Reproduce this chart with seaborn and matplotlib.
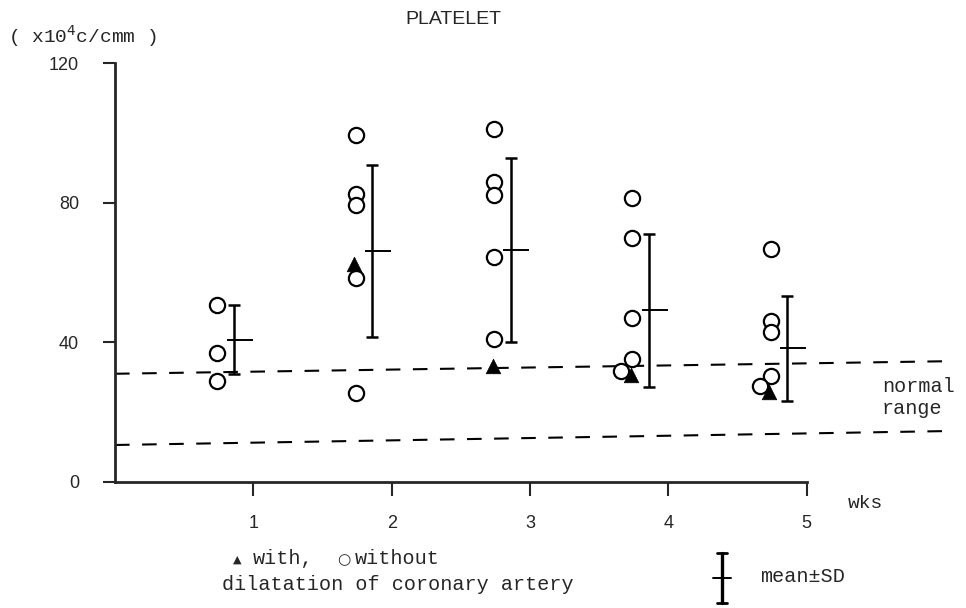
import matplotlib
matplotlib.use("Agg")
import matplotlib.pyplot as plt
from matplotlib.lines import Line2D
import seaborn as sns
import pandas as pd

# ---- data ----
weeks = [1, 2, 3, 4, 5]
without_w1 = [50.6, 37.0, 29.0]
without_w2 = [99.4, 82.6, 79.4, 58.3, 25.4]
without_w3 = [101.1, 86.0, 82.3, 64.3, 40.9]
without_w4 = [81.4, 70.0, 47.1, 35.1, 31.7]
without_w5 = [66.6, 46.0, 42.9, 30.3, 27.4]
with_weeks = [2, 3, 4, 5]
with_vals = [62.3, 33.1, 30.6, 25.7]
means = [40.7, 66.1, 66.5, 49.2, 38.3]
sds = [9.9, 24.7, 26.4, 21.9, 15.1]
normal_x = [0, 6.03]
normal_upper = [31.0, 34.6]
normal_lower = [10.6, 14.6]
yticks = [0, 40, 80, 120]
xticks = [1, 2, 3, 4, 5]

without_all = [without_w1, without_w2, without_w3, without_w4, without_w5]

sns.set_style("ticks")
plt.rcParams["font.family"] = ["Liberation Mono", "DejaVu Sans"]

fig = plt.figure(figsize=(9.66, 6.08), dpi=100)
ax = fig.add_axes([115 / 966, 126 / 608, 837 / 966, 419 / 608])

# build point table (x offsets are layout only)
rows = []
for wk, vals in zip(weeks, without_all):
    for i, v in enumerate(vals):
        # the last circle in weeks 4/5 sits a little to the left (overlap)
        shift = -0.08 if (wk >= 4 and i == len(vals) - 1) else 0.0
        rows.append({"x": wk - 0.26 + shift, "value": v})
df_without = pd.DataFrame(rows)
df_with = pd.DataFrame({"x": [w - 0.27 for w in with_weeks], "value": with_vals})

# normal range dashed lines
for ys in (normal_upper, normal_lower):
    sns.lineplot(x=normal_x, y=ys, ax=ax, color="black", lw=1.5,
                 linestyle=(0, (7, 6)), zorder=1)

sns.scatterplot(data=df_without, x="x", y="value", ax=ax, marker="o", s=120,
                facecolor="white", edgecolor="black", linewidth=1.6, zorder=3)
sns.scatterplot(data=df_with, x="x", y="value", ax=ax, marker="^", s=110,
                color="black", edgecolor="black", linewidth=0.5, zorder=4)

# mean +/- SD bars
bar_x = [w - 0.14 for w in weeks]
ax.errorbar(bar_x, means, yerr=sds, fmt="none", ecolor="black", elinewidth=1.8,
            capsize=4, capthick=1.8, zorder=2)
ax.scatter([b + 0.04 for b in bar_x], means, marker="_", s=330, color="black",
           linewidths=1.4, zorder=2)

ax.set_xlim(0, 6.05)
ax.set_ylim(0, 120)
ax.set_xticks(xticks)
ax.set_yticks(yticks)
ax.set_xticklabels([str(t) for t in xticks], family="Liberation Sans", fontsize=13)
ax.set_yticklabels([str(t) for t in yticks], family="Liberation Sans", fontsize=13)
ax.tick_params(axis="y", direction="out", length=9, width=1.5, pad=17)
ax.tick_params(axis="x", direction="out", length=10, width=1.5, pad=14)
ax.set_xlabel("")
ax.set_ylabel("")
for s in ("top", "right"):
    ax.spines[s].set_visible(False)
ax.spines["left"].set_linewidth(2)
ax.spines["bottom"].set_linewidth(2)
ax.spines["bottom"].set_bounds(0, 5)
ax.spines["left"].set_bounds(0, 120)

# texts
fig.text(405 / 966, 1 - 19 / 608, "PLATELET", family="Liberation Sans",
         fontsize=14, ha="left", va="center")
fig.text(8 / 966, 1 - 36 / 608, "( x10$^{4}$c/cmm )", fontsize=14,
         ha="left", va="center")
fig.text(848 / 966, 1 - 503 / 608, "wks", fontsize=14, ha="left", va="center")
fig.text(882 / 966, 1 - 387 / 608, "normal", fontsize=14.5, ha="left", va="center")
fig.text(882 / 966, 1 - 409 / 608, "range", fontsize=14.5, ha="left", va="center")

# legend (bottom)
fig.text(233 / 966, 1 - 560 / 608, "▲", family="DejaVu Sans", fontsize=8,
         ha="left", va="center")
fig.text(253 / 966, 1 - 558 / 608, "with,", fontsize=14.5, ha="left", va="center")
fig.text(337 / 966, 1 - 560 / 608, "○", family="DejaVu Sans", fontsize=11,
         ha="left", va="center")
fig.text(355 / 966, 1 - 558 / 608, "without", fontsize=14.5, ha="left", va="center")
fig.text(222 / 966, 1 - 584 / 608, "dilatation of coronary artery", fontsize=14.5,
         ha="left", va="center")

lx = 722 / 966
y0, y1, ym = 1 - 603 / 608, 1 - 553 / 608, 1 - 578 / 608
cw = 5 / 966
for xs, ys, lw in (([lx, lx], [y0, y1], 2.4),
                   ([lx - cw, lx + cw], [y0, y0], 2.0),
                   ([lx - cw, lx + cw], [y1, y1], 2.0),
                   ([lx - 9 / 966, lx + 9 / 966], [ym, ym], 1.4)):
    fig.add_artist(Line2D(xs, ys, color="black", lw=lw, transform=fig.transFigure))
fig.text(760 / 966, 1 - 577 / 608, "mean±SD", fontsize=14.5, ha="left", va="center")

fig.savefig("out.png", dpi=100)
